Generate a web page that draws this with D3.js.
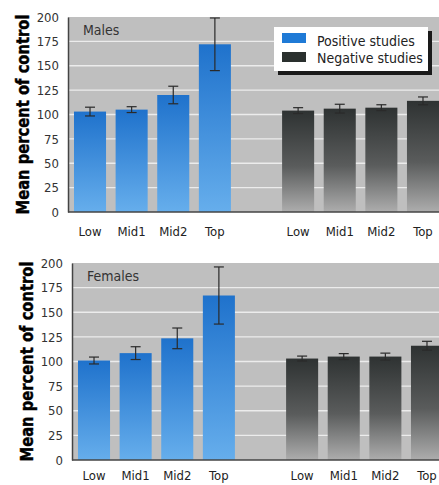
<!DOCTYPE html>
<html>
  <head>
    <script src="https://d3js.org/d3.v7.min.js"></script>
    <style>
      body { margin: 0; background: #fff; }
      text { font-family: "Liberation Sans Narrow", "DejaVu Sans Condensed", "Roboto Condensed", sans-serif; }
    </style>
  </head>
  <body>
    <svg id="chart" width="439" height="485"></svg>
    <script>
      // data
      const categories = ["Low", "Mid1", "Mid2", "Top"];
      const studies = ["Positive studies", "Negative studies"];
      const yTicks = [0, 25, 50, 75, 100, 125, 150, 175, 200];

      const malesPositive = [103, 105, 120, 172];
      const malesPositiveErr = [4.5, 3, 9, 27];
      const malesNegative = [104, 106, 107, 114];
      const malesNegativeErr = [3, 4.5, 3, 4];

      const femalesPositive = [101, 108.5, 123.5, 167];
      const femalesPositiveErr = [3.5, 6.5, 10.5, 29];
      const femalesNegative = [103, 105, 105, 116];
      const femalesNegativeErr = [2.5, 3, 3.5, 4.5];

      const svg = d3.select("#chart");
      const defs = svg.append("defs");

      // gradients for the bars
      var gradBlue = defs.append("linearGradient").attr("id", "gradBlue")
        .attr("x1", 0).attr("y1", 0).attr("x2", 0).attr("y2", 1);
      gradBlue.append("stop").attr("offset", "0%").attr("stop-color", "#1f72cc");
      gradBlue.append("stop").attr("offset", "100%").attr("stop-color", "#66aeec");

      var gradDark = defs.append("linearGradient").attr("id", "gradDark")
        .attr("x1", 0).attr("y1", 0).attr("x2", 0).attr("y2", 1);
      gradDark.append("stop").attr("offset", "0%").attr("stop-color", "#2e3232");
      gradDark.append("stop").attr("offset", "55%").attr("stop-color", "#5a5c5c");
      gradDark.append("stop").attr("offset", "100%").attr("stop-color", "#adadad");

      const fills = ["url(#gradBlue)", "url(#gradDark)"];
      const swatches = ["#1f7ad6", "#2a302e"];

      // slots: 4 positive, one empty gap, 4 negative
      const slots = categories.map((c) => "P-" + c)
        .concat(["gap"])
        .concat(categories.map((c) => "N-" + c));

      function drawPanel(opts) {
        var g = svg.append("g");

        var y = d3.scaleLinear().domain([0, 200]).range([opts.bottom, opts.top]);
        var x = d3.scaleBand()
          .domain(slots)
          .range([opts.left, opts.left + 377])
          .paddingInner(0.23)
          .paddingOuter(0.144);

        // plot background
        g.append("rect")
          .attr("x", opts.left)
          .attr("y", y(200))
          .attr("width", 439 - opts.left)
          .attr("height", y(0) - y(200))
          .attr("fill", "#bfbfbf");

        // grid lines
        g.append("g")
          .selectAll("line")
          .data(yTicks.filter((t) => t > 0 && t < 200))
          .enter()
          .append("line")
          .attr("x1", opts.left)
          .attr("x2", 439)
          .attr("y1", (d) => y(d))
          .attr("y2", (d) => y(d))
          .attr("stroke", "#ececec")
          .attr("stroke-width", 1.3);

        // y axis
        var yAxis = g.append("g")
          .attr("transform", "translate(" + opts.left + ",0)")
          .call(d3.axisLeft(y).tickValues(yTicks).tickSize(0).tickPadding(9));
        yAxis.select(".domain").attr("stroke", "#444").attr("stroke-width", 1.5);
        yAxis.selectAll("text").attr("font-size", 13).attr("fill", "#333")
          .style("font-family", "'Liberation Sans Narrow', 'DejaVu Sans Condensed', sans-serif");

        // bars
        var series = [
          { key: "P", values: opts.pos, err: opts.posErr, fill: fills[0] },
          { key: "N", values: opts.neg, err: opts.negErr, fill: fills[1] },
        ];
        series.forEach(function (s) {
          var rows = categories.map((c, i) => ({ cat: c, v: s.values[i], e: s.err[i] }));
          g.append("g")
            .selectAll("rect")
            .data(rows)
            .enter()
            .append("rect")
            .attr("x", (d) => x(s.key + "-" + d.cat))
            .attr("y", (d) => y(d.v))
            .attr("width", x.bandwidth())
            .attr("height", (d) => y(0) - y(d.v))
            .attr("fill", s.fill);

          // error bars
          var eb = g.append("g").attr("stroke", "#2a2a2a").attr("stroke-width", 1.2);
          rows.forEach(function (d) {
            var cx = x(s.key + "-" + d.cat) + x.bandwidth() / 2;
            eb.append("line").attr("x1", cx).attr("x2", cx)
              .attr("y1", y(d.v + d.e)).attr("y2", y(d.v - d.e));
            eb.append("line").attr("x1", cx - 5).attr("x2", cx + 5)
              .attr("y1", y(d.v + d.e)).attr("y2", y(d.v + d.e));
            eb.append("line").attr("x1", cx - 5).attr("x2", cx + 5)
              .attr("y1", y(d.v - d.e)).attr("y2", y(d.v - d.e));
          });
        });

        // bottom axis line
        g.append("line")
          .attr("x1", opts.left).attr("x2", 439)
          .attr("y1", y(0)).attr("y2", y(0))
          .attr("stroke", "#444").attr("stroke-width", 1.5);

        // category labels
        g.append("g")
          .selectAll("text")
          .data(slots.filter((s) => s !== "gap"))
          .enter()
          .append("text")
          .attr("x", (d) => x(d) + x.bandwidth() / 2)
          .attr("y", opts.bottom + opts.labelGap)
          .attr("text-anchor", "middle")
          .attr("font-size", 13)
          .attr("fill", "#222")
          .text((d) => d.slice(2));

        // panel title
        g.append("text")
          .attr("x", opts.left + 15)
          .attr("y", y(200) + 18)
          .attr("font-size", 14)
          .attr("fill", "#333")
          .text(opts.title);

        // y axis title
        g.append("text")
          .attr("transform", "translate(" + opts.labelX + "," + (opts.top + opts.bottom) / 2 + ") rotate(-90)")
          .attr("text-anchor", "middle")
          .attr("font-size", 17)
          .attr("font-weight", "bold")
          .attr("fill", "#000")
          .attr("stroke", "#000")
          .attr("stroke-width", 0.4)
          .attr("textLength", 200)
          .attr("lengthAdjust", "spacingAndGlyphs")
          .text("Mean percent of control");
      }

      drawPanel({
        title: "Males", top: 17, bottom: 212, left: 68, labelX: 29, labelGap: 24,
        pos: malesPositive, posErr: malesPositiveErr,
        neg: malesNegative, negErr: malesNegativeErr,
      });
      drawPanel({
        title: "Females", top: 263, bottom: 460, left: 72, labelX: 33, labelGap: 20,
        pos: femalesPositive, posErr: femalesPositiveErr,
        neg: femalesNegative, negErr: femalesNegativeErr,
      });

      // legend (top panel only)
      var legend = svg.append("g").attr("transform", "translate(274,27)");
      legend.append("rect").attr("x", 4).attr("y", 4).attr("width", 154).attr("height", 44).attr("fill", "#1a1a1a");
      legend.append("rect").attr("width", 154).attr("height", 44).attr("fill", "#fff");
      legend.selectAll(".sw")
        .data(studies)
        .enter()
        .append("rect")
        .attr("x", 8)
        .attr("y", (d, i) => 6 + i * 19)
        .attr("width", 24)
        .attr("height", 10)
        .attr("fill", (d, i) => swatches[i]);
      legend.selectAll(".lt")
        .data(studies)
        .enter()
        .append("text")
        .attr("x", 43)
        .attr("y", (d, i) => 19 + i * 17)
        .attr("font-size", 14)
        .attr("fill", "#222")
        .text((d) => d);
    </script>
  </body>
</html>
